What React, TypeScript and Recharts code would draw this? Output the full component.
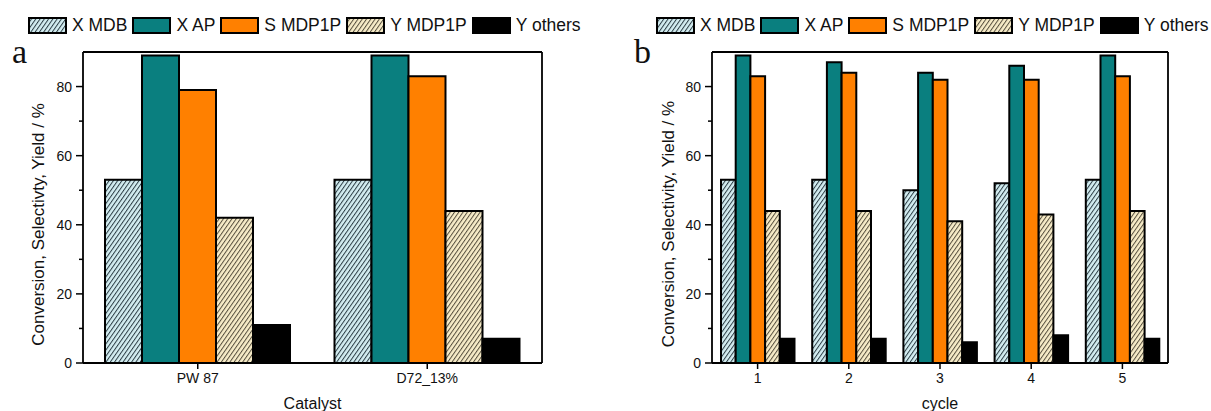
import React from 'react';
import { BarChart, Bar, XAxis, YAxis, CartesianGrid } from 'recharts';

const seriesNames = ['X MDB', 'X AP', 'S MDP1P', 'Y MDP1P', 'Y others'];
const seriesKeys = ['xMDB', 'xAP', 'sMDP1P', 'yMDP1P', 'yOthers'];
const seriesFills = ['url(#hatchBlue)', '#0a7f7f', '#ff8000', 'url(#hatchBeige)', '#000000'];

const catalysts = ['PW 87', 'D72_13%'];
const catXMDB = [53, 53];
const catXAP = [89, 89];
const catSMDP1P = [79, 83];
const catYMDP1P = [42, 44];
const catYOthers = [11, 7];

const cycles = ['1', '2', '3', '4', '5'];
const cycXMDB = [53, 53, 50, 52, 53];
const cycXAP = [89, 87, 84, 86, 89];
const cycSMDP1P = [83, 84, 82, 82, 83];
const cycYMDP1P = [44, 44, 41, 43, 44];
const cycYOthers = [7, 7, 6, 8, 7];

const yTicks = [0, 10, 20, 30, 40, 50, 60, 70, 80];
const yDomain = [0, 90];

const dataA = catalysts.map((c, i) => ({
  cat: c,
  xMDB: catXMDB[i],
  xAP: catXAP[i],
  sMDP1P: catSMDP1P[i],
  yMDP1P: catYMDP1P[i],
  yOthers: catYOthers[i],
}));

const dataB = cycles.map((c, i) => ({
  cat: c,
  xMDB: cycXMDB[i],
  xAP: cycXAP[i],
  sMDP1P: cycSMDP1P[i],
  yMDP1P: cycYMDP1P[i],
  yOthers: cycYOthers[i],
}));

const FONT = "'Liberation Sans', Arial, sans-serif";
const SERIF = "'Liberation Serif', 'Times New Roman', serif";

const Patterns = () => (
  <svg width={0} height={0} style={{ position: 'absolute' }}>
    <defs>
      <pattern id="hatchBlue" patternUnits="userSpaceOnUse" width={3.5} height={3.5} patternTransform="rotate(35)">
        <rect x={0} y={0} width={3.5} height={3.5} fill="#d3edf1" />
        <line x1={0.5} y1={0} x2={0.5} y2={3.5} stroke="#2c3d45" strokeWidth={1} />
      </pattern>
      <pattern id="hatchBeige" patternUnits="userSpaceOnUse" width={3.5} height={3.5} patternTransform="rotate(35)">
        <rect x={0} y={0} width={3.5} height={3.5} fill="#f7ecc8" />
        <line x1={0.5} y1={0} x2={0.5} y2={3.5} stroke="#564f3e" strokeWidth={1} />
      </pattern>
    </defs>
  </svg>
);

const YTick = (props: any) => {
  const { x, y, payload } = props;
  const major = payload.value % 20 === 0;
  const axisX = x + 11;
  return (
    <g>
      <line x1={axisX - (major ? 7 : 4)} x2={axisX} y1={y} y2={y} stroke="#000" strokeWidth={1.5} />
      {major && (
        <text x={x} y={y} textAnchor="end" dominantBaseline="central" fontSize={14} fill="#111">
          {payload.value}
        </text>
      )}
    </g>
  );
};

const Legend = ({ left }: { left: number }) => (
  <div
    style={{
      position: 'absolute',
      left,
      top: 16,
      height: 18,
      display: 'flex',
      alignItems: 'center',
      fontFamily: FONT,
      fontSize: 17.5,
      color: '#111',
      whiteSpace: 'nowrap',
    }}
  >
    {seriesNames.map((n, i) => (
      <div key={n} style={{ display: 'flex', alignItems: 'center', marginRight: 5 }}>
        <svg width={39} height={17} style={{ display: 'block' }}>
          <rect x={1} y={1} width={37} height={15} fill={seriesFills[i]} stroke="#000" strokeWidth={2} />
        </svg>
        <span style={{ marginLeft: 5 }}>{n}</span>
      </div>
    ))}
  </div>
);

type PanelProps = {
  left: number;
  width: number;
  marginRight: number;
  data: any[];
  barSize: number;
  xLabel: string;
  yLabel: string;
  labelDx: number;
  labelDy: number;
};

const Panel = ({ left, width, marginRight, data, barSize, xLabel, yLabel, labelDx, labelDy }: PanelProps) => (
  <div style={{ position: 'absolute', left, top: 0, fontFamily: FONT }}>
    <BarChart
      width={width}
      height={411}
      data={data}
      margin={{ top: 52, right: marginRight, bottom: 0, left: 0 }}
      barGap={0}
      barSize={barSize}
    >
      <CartesianGrid
        stroke="#000"
        strokeWidth={1.8}
        strokeDasharray=""
        horizontalCoordinatesGenerator={(p: any) => [p.offset.top]}
        verticalCoordinatesGenerator={(p: any) => [p.offset.left + p.offset.width]}
      />
      <XAxis
        dataKey="cat"
        height={48}
        tickSize={6}
        tickMargin={4}
        axisLine={{ stroke: '#000', strokeWidth: 1.8 }}
        tickLine={{ stroke: '#000', strokeWidth: 1.5 }}
        tick={{ fill: '#111', fontSize: 14 }}
        interval={0}
        label={{ value: xLabel, position: 'insideBottom', offset: 2, fill: '#111', fontSize: 16 }}
      />
      <YAxis
        domain={yDomain}
        ticks={yTicks}
        interval={0}
        width={83}
        tickSize={7}
        tickMargin={4}
        axisLine={{ stroke: '#000', strokeWidth: 1.8 }}
        tickLine={false}
        tick={<YTick />}
        allowDataOverflow
        label={{
          value: yLabel,
          angle: -90,
          position: 'center',
          dx: labelDx,
          dy: labelDy,
          fill: '#111',
          fontSize: 17,
        }}
      />
      {seriesKeys.map((k, i) => (
        <Bar
          key={k}
          dataKey={k}
          name={seriesNames[i]}
          fill={seriesFills[i]}
          stroke="#000"
          strokeWidth={2}
          isAnimationActive={false}
        />
      ))}
    </BarChart>
  </div>
);

export default function App() {
  return (
    <div style={{ position: 'absolute', left: 0, top: 0, width: 1211, height: 411, background: '#fff' }}>
      <Patterns />
      <Legend left={28} />
      <Legend left={656} />
      <div style={{ position: 'absolute', left: 12, top: 32, fontFamily: SERIF, fontSize: 34, color: '#111', lineHeight: '40px' }}>a</div>
      <div style={{ position: 'absolute', left: 634, top: 32, fontFamily: SERIF, fontSize: 34, color: '#111', lineHeight: '40px' }}>b</div>
      <Panel
        left={0}
        width={600}
        marginRight={58}
        data={dataA}
        barSize={37}
        xLabel="Catalyst"
        yLabel="Conversion, Selectivty, Yield / %"
        labelDx={-3.5}
        labelDy={17}
      />
      <Panel
        left={629}
        width={582}
        marginRight={43}
        data={dataB}
        barSize={14.7}
        xLabel="cycle"
        yLabel="Conversion, Selectivity, Yield / %"
        labelDx={-2.5}
        labelDy={16.5}
      />
    </div>
  );
}
